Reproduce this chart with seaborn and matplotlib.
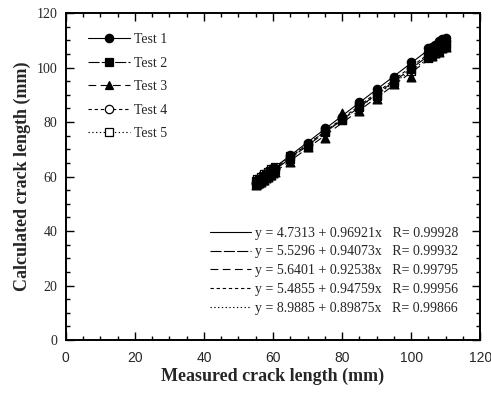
import numpy as np
import pandas as pd
import matplotlib
matplotlib.use("Agg")
import matplotlib.pyplot as plt
import seaborn as sns
from matplotlib.lines import Line2D
from matplotlib.ticker import MultipleLocator

# ---- data ----
measured = [55, 55.5, 56, 56.5, 57, 57.5, 58, 58.5, 59, 59.5, 60, 60.5,
            65, 70, 75, 80, 85, 90, 95, 100, 105, 106, 107, 108, 109, 110]
test1 = [57.8, 58.6, 59.2, 59.4, 60.1, 60.3, 61.1, 61.3, 62.0, 62.3, 63.0, 63.2,
         67.9, 72.4, 77.8, 82.0, 87.5, 92.3, 96.6, 102.0, 107.2, 107.6, 108.2, 109.6, 110.6, 111.0]
test2 = [57.1, 57.9, 58.0, 58.8, 59.0, 59.8, 60.0, 60.7, 60.9, 61.6, 62.1, 62.3,
         66.4, 70.9, 76.3, 80.6, 85.9, 89.8, 95.1, 99.4, 104.6, 105.0, 106.4, 107.0, 108.3, 108.8]
test3 = [56.9, 57.3, 57.8, 58.0, 58.7, 58.9, 59.6, 59.8, 60.5, 60.6, 61.4, 61.5,
         65.4, 71.0, 74.0, 83.5, 84.0, 88.4, 93.8, 96.5, 104.0, 104.2, 105.3, 105.6, 107.0, 107.6]
test4 = [57.5, 58.2, 58.5, 59.1, 59.4, 60.1, 60.4, 61.0, 61.3, 62.0, 62.3, 62.9,
         67.2, 71.6, 76.8, 81.0, 86.2, 90.6, 95.7, 100.0, 105.2, 105.8, 107.0, 107.7, 108.9, 109.6]
test5 = [58.3, 59.0, 59.2, 59.9, 60.1, 60.8, 61.0, 61.7, 61.9, 62.6, 62.8, 63.5,
         67.6, 71.7, 76.6, 80.7, 85.6, 89.7, 94.6, 98.7, 103.5, 104.1, 105.3, 105.9, 107.1, 107.7]

test_names = ["Test 1", "Test 2", "Test 3", "Test 4", "Test 5"]
intercepts = [4.7313, 5.5296, 5.6401, 5.4855, 8.9885]
slopes = [0.96921, 0.94073, 0.92538, 0.94759, 0.89875]
r_values = ["0.99928", "0.99932", "0.99795", "0.99956", "0.99866"]
x_ticks = [0, 20, 40, 60, 80, 100, 120]
y_ticks = [0, 20, 40, 60, 80, 100, 120]

# ---- styles ----
markers = ["o", "s", "^", "o", "s"]
filled = [True, True, True, False, False]
dashes = [None, (10, 2), (7, 4), (3, 2.5), (1.2, 2.2)]

sns.set_theme(style="ticks")
plt.rcParams["font.family"] = ["Liberation Serif", "DejaVu Serif"]
plt.rcParams["mathtext.fontset"] = "stix"

fig = plt.figure(figsize=(4.91, 3.95), dpi=100)
ax = fig.add_axes([0.134, 0.139, 0.844, 0.828])

series = [test1, test2, test3, test4, test5]
df = pd.DataFrame({"measured": measured * 5,
                   "calc": sum(series, []),
                   "test": sum([[n] * len(measured) for n in test_names], [])})

xs = np.array([min(measured), max(measured)])
for i in reversed(range(5)):
    sub = df[df["test"] == test_names[i]]
    fit_df = pd.DataFrame({"x": xs, "y": intercepts[i] + slopes[i] * xs})
    ls = "-" if dashes[i] is None else (0, dashes[i])
    ax.plot(fit_df["x"], fit_df["y"], color="black", lw=0.8, linestyle=ls, zorder=2)
    sns.scatterplot(data=sub, x="measured", y="calc", ax=ax,
                    marker=markers[i], s=36 if markers[i] != "^" else 40,
                    color="black" if filled[i] else "white",
                    edgecolor="black", linewidth=0.9, zorder=3, legend=False)

ax.set_xlim(0, 120)
ax.set_ylim(0, 120)
ax.set_xticks(x_ticks)
ax.set_yticks(y_ticks)
ax.xaxis.set_minor_locator(MultipleLocator(5))
ax.yaxis.set_minor_locator(MultipleLocator(5))
ax.tick_params(which="both", direction="in", top=True, right=True, color="black", width=1.0)
ax.tick_params(which="major", length=6)
ax.tick_params(which="minor", length=3)
for lab in ax.get_xticklabels():
    lab.set_fontfamily(["Liberation Sans", "DejaVu Sans"])
    lab.set_fontsize(10)
for lab in ax.get_yticklabels():
    lab.set_fontfamily(["Liberation Serif", "DejaVu Serif"])
    lab.set_fontsize(10)
ax.tick_params(axis="x", pad=8)
ax.tick_params(axis="y", pad=6)
for sp in ax.spines.values():
    sp.set_visible(True)
    sp.set_color("black")
    sp.set_linewidth(1.4)

ax.set_xlabel("Measured crack length (mm)", fontsize=13, fontweight="bold", labelpad=2)
ax.set_ylabel("Calculated crack length (mm)", fontsize=13, fontweight="bold", labelpad=4)
ax.grid(False)

# legend 1
h1 = []
for i in range(5):
    ls = "-" if dashes[i] is None else (0, dashes[i])
    h1.append(Line2D([], [], color="black", lw=0.8, linestyle=ls, marker=markers[i],
                     markersize=6.0, markerfacecolor="black" if filled[i] else "white",
                     markeredgecolor="black", markeredgewidth=0.9))
leg1 = ax.legend(h1, test_names, loc="upper left", bbox_to_anchor=(0.04, 0.955),
                 frameon=False, fontsize=10, handlelength=3.0, handletextpad=0.3,
                 labelspacing=0.75, borderaxespad=0)
ax.add_artist(leg1)

# legend 2
h2 = []
labels2 = []
for i in range(5):
    ls = "-" if dashes[i] is None else (0, dashes[i])
    h2.append(Line2D([], [], color="black", lw=0.8, linestyle=ls))
    labels2.append(f"y = {intercepts[i]:.4f} + {slopes[i]:.5f}x   R= {r_values[i]}")
ax.legend(h2, labels2, loc="lower right", bbox_to_anchor=(0.96, 0.06),
          frameon=False, fontsize=10, handlelength=2.9, handletextpad=0.3,
          labelspacing=0.42, borderaxespad=0)

fig.savefig("out.png", dpi=100)
